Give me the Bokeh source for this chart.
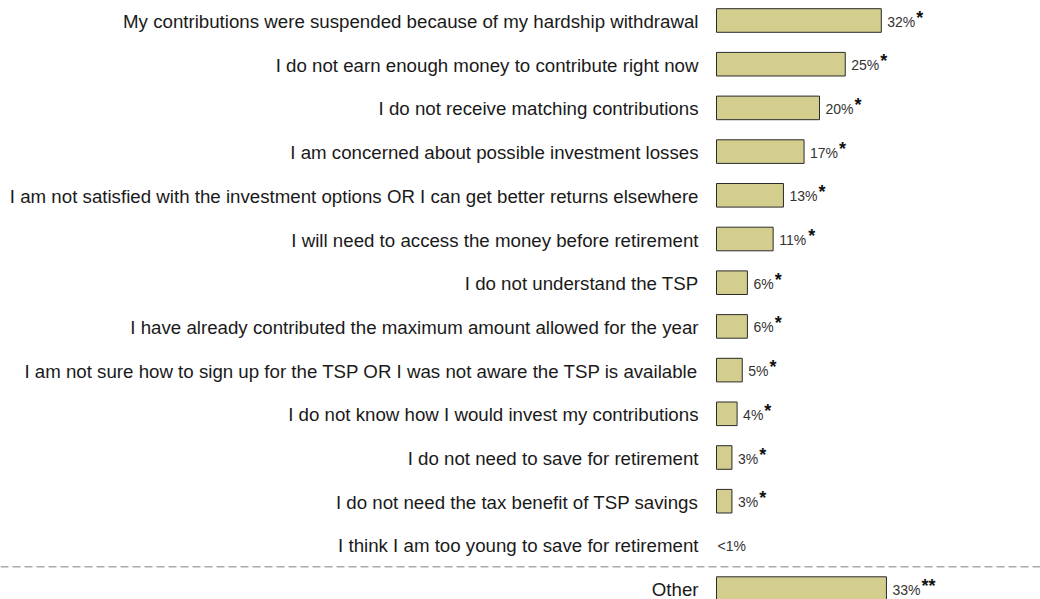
from bokeh.plotting import figure
from bokeh.models import ColumnDataSource, Range1d, Span
from bokeh.core.properties import value
from bokeh.embed import file_html
from bokeh.resources import INLINE

categories = [
    "My contributions were suspended because of my hardship withdrawal",
    "I do not earn enough money to contribute right now",
    "I do not receive matching contributions",
    "I am concerned about possible investment losses",
    "I am not satisfied with the investment options OR I can get better returns elsewhere",
    "I will need to access the money before retirement",
    "I do not understand the TSP",
    "I have already contributed the maximum amount allowed for the year",
    "I am not sure how to sign up for the TSP OR I was not aware the TSP is available",
    "I do not know how I would invest my contributions",
    "I do not need to save for retirement",
    "I do not need the tax benefit of TSP savings",
    "I think I am too young to save for retirement",
    "Other",
]
values = [32, 25, 20, 17, 13, 11, 6, 6, 5, 4, 3, 3, 0, 33]
value_labels = ["32%", "25%", "20%", "17%", "13%", "11%", "6%", "6%", "5%", "4%",
                "3%", "3%", "<1%", "33%"]
stars = ["*", "*", "*", "*", "*", "*", "*", "*", "*", "*", "*", "*", "", "**"]

PX_PER_UNIT = 5.15
W, H = 1040, 599
BAR_LEFT_PX = 716
ROW_PX = 43.7
FIRST_ROW_PX = 20

rows = list(range(len(categories)))
VAL_SIZE = 14

def text_width(s, size):
    w = 0.0
    for ch in s:
        if ch.isdigit():
            w += 0.556 * size
        elif ch == "%":
            w += 0.889 * size
        elif ch == "<":
            w += 0.584 * size
        else:
            w += 0.5 * size
    return w

p = figure(width=W, height=H, output_backend="svg", toolbar_location=None,
           x_range=Range1d(-BAR_LEFT_PX / PX_PER_UNIT, (W - BAR_LEFT_PX) / PX_PER_UNIT),
           y_range=Range1d((H - FIRST_ROW_PX) / ROW_PX, -FIRST_ROW_PX / ROW_PX),
           min_border=0, min_border_left=0, min_border_right=0,
           min_border_top=0, min_border_bottom=0)
p.axis.visible = False
p.xgrid.visible = False
p.ygrid.visible = False
p.outline_line_color = None
p.background_fill_color = "white"
p.border_fill_color = "white"

bar_src = ColumnDataSource(dict(
    y=[r for r, v in zip(rows, values) if v > 0],
    right=[v for v in values if v > 0],
))
p.hbar(y="y", left=0, right="right", height=0.54, source=bar_src,
       fill_color="#D3CE8E", line_color="#2a2a2a", line_width=1)

# category labels
cat_src = ColumnDataSource(dict(y=rows, x=[0] * len(rows), text=categories))
p.text(x="x", y="y", text="text", source=cat_src, x_offset=-18, y_offset=1,
       text_align="right", text_baseline="middle",
       text_font=value("Liberation Sans"), text_font_size="18.7px", text_color="#1a1a1a")

# value labels
val_offsets = [6 if v > 0 else 1 for v in values]
val_src = ColumnDataSource(dict(y=rows, x=values, text=value_labels, xo=val_offsets))
p.text(x="x", y="y", text="text", source=val_src, x_offset="xo", y_offset=1,
       text_align="left", text_baseline="middle",
       text_font=value("Liberation Sans"), text_font_size=f"{VAL_SIZE}px",
       text_color="#333333")

star_offsets = [o + text_width(t, VAL_SIZE) + 1 for o, t in zip(val_offsets, value_labels)]
star_src = ColumnDataSource(dict(y=rows, x=values, text=stars, xo=star_offsets))
p.text(x="x", y="y", text="text", source=star_src, x_offset="xo", y_offset=-3,
       text_align="left", text_baseline="middle",
       text_font=value("Liberation Sans"), text_font_size="18px",
       text_font_style="bold", text_color="#111111")

p.add_layout(Span(location=12.5, dimension="width", line_color="#aaaaaa",
                  line_dash="8 4", line_width=1.5))

open("out.html", "w").write(file_html(p, INLINE))
